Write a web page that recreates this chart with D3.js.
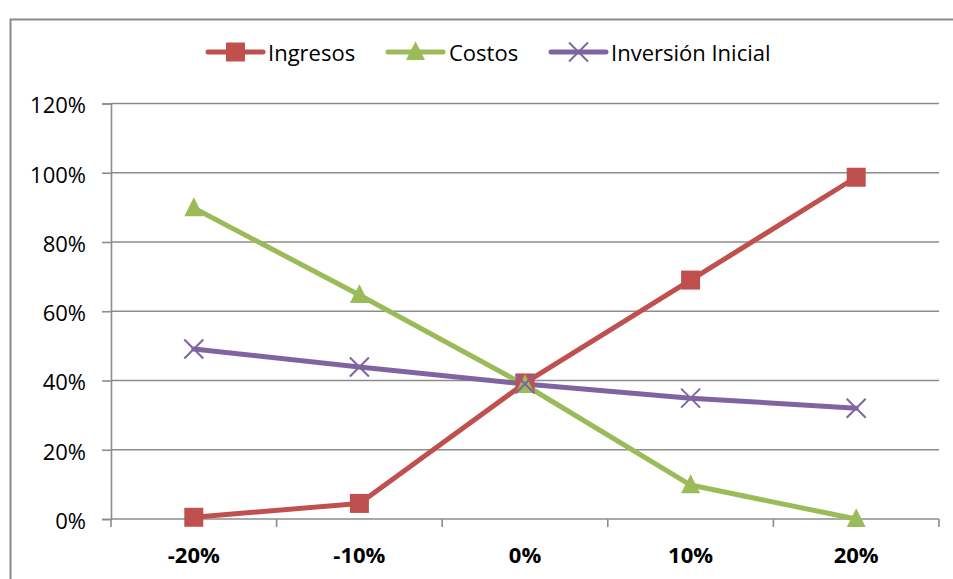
<!DOCTYPE html>
<html>
<head>
<meta charset="utf-8">
<script src="https://cdn.jsdelivr.net/npm/d3@7"></script>
<style>
  html, body { margin: 0; padding: 0; background: #fff; }
  svg { display: block; }
  text { font-family: "Open Sans", Lato, sans-serif; fill: #000; }
</style>
</head>
<body>
<svg id="chart" width="953" height="579"></svg>
<script>
// Sensitivity of the result to changes in each variable
const categories = ["-20%", "-10%", "0%", "10%", "20%"];
const ingresos = [0.5, 4.5, 39.3, 69.0, 98.7];
const costos = [89.8, 64.7, 38.7, 9.8, 0.0];
const inversion = [49.1, 43.9, 39.0, 34.9, 32.0];
const yTicks = [0, 20, 40, 60, 80, 100, 120];

const seriesNames = ["Ingresos", "Costos", "Inversión Inicial"];
const seriesColors = ["#C0504D", "#9BBB59", "#8064A2"];
const seriesMarkers = ["square", "triangle", "cross"];
const seriesValues = [ingresos, costos, inversion];

const series = seriesNames.map((name, i) => ({
  name, color: seriesColors[i], marker: seriesMarkers[i], values: seriesValues[i]
}));

const svg = d3.select("#chart");
const plot = { left: 111, right: 939, top: 103.5, bottom: 519 };
const FONT = "'Open Sans', Lato, sans-serif";

// Outer chart frame
svg.append("rect")
  .attr("x", 10.5).attr("y", 19.5)
  .attr("width", 960).attr("height", 600)
  .attr("fill", "none").attr("stroke", "#8a8a8a").attr("stroke-width", 2);

const x = d3.scaleBand().domain(categories).range([plot.left, plot.right]);
const y = d3.scaleLinear().domain([0, 120]).range([plot.bottom, plot.top]);

// Horizontal gridlines
svg.append("g")
  .selectAll("line")
  .data(yTicks.filter(t => t > 0))
  .join("line")
  .attr("x1", plot.left).attr("x2", plot.right)
  .attr("y1", d => y(d)).attr("y2", d => y(d))
  .attr("stroke", "#8c8c8c").attr("stroke-width", 1.6);

// Y axis
const yAxis = svg.append("g")
  .attr("transform", `translate(${plot.left},0)`)
  .call(d3.axisLeft(y).tickValues(yTicks).tickFormat(d => d + "%").tickSize(9).tickPadding(16));
yAxis.select(".domain").attr("stroke", "#8c8c8c").attr("stroke-width", 1.6);
yAxis.selectAll(".tick line").attr("stroke", "#8c8c8c").attr("stroke-width", 1.6);
yAxis.selectAll(".tick text")
  .attr("font-family", FONT).attr("font-size", 22).attr("fill", "#000")
  .attr("dy", "0.42em");

// X axis with ticks between categories
const xAxis = svg.append("g")
  .attr("transform", `translate(0,${plot.bottom})`);
xAxis.append("line")
  .attr("x1", plot.left).attr("x2", plot.right)
  .attr("stroke", "#8c8c8c").attr("stroke-width", 1.6);
const boundaries = categories.map(c => x(c)).concat([x(categories[categories.length - 1]) + x.bandwidth()]);
xAxis.selectAll("line.tk")
  .data(boundaries)
  .join("line").attr("class", "tk")
  .attr("x1", d => d).attr("x2", d => d)
  .attr("y1", 0).attr("y2", 8)
  .attr("stroke", "#8c8c8c").attr("stroke-width", 1.6);
xAxis.selectAll("text")
  .data(categories)
  .join("text")
  .attr("x", d => x(d) + x.bandwidth() / 2)
  .attr("y", 44)
  .attr("text-anchor", "middle")
  .attr("font-size", 22).attr("font-weight", "bold")
  .text(d => d);

// Marker drawing helper
function drawMarker(g, type, color, cx, cy, s) {
  if (type === "square") {
    g.append("rect")
      .attr("x", cx - s / 2).attr("y", cy - s / 2)
      .attr("width", s).attr("height", s)
      .attr("fill", color);
  } else if (type === "triangle") {
    const h = s * 0.95;
    g.append("path")
      .attr("d", `M${cx},${cy - h * 0.6} L${cx + s / 2},${cy + h * 0.45} L${cx - s / 2},${cy + h * 0.45} Z`)
      .attr("fill", color);
  } else {
    const r = s / 2;
    g.append("path")
      .attr("d", `M${cx - r},${cy - r} L${cx + r},${cy + r} M${cx - r},${cy + r} L${cx + r},${cy - r}`)
      .attr("stroke", color).attr("stroke-width", 2).attr("fill", "none");
  }
}

const line = d3.line()
  .x((d, i) => x(categories[i]) + x.bandwidth() / 2)
  .y(d => y(d));

// Series lines, then markers
series.forEach(s => {
  svg.append("path")
    .datum(s.values)
    .attr("d", line)
    .attr("fill", "none")
    .attr("stroke", s.color)
    .attr("stroke-width", 5)
    .attr("stroke-linejoin", "round")
    .attr("stroke-linecap", "round");
});
series.forEach(s => {
  const g = svg.append("g");
  s.values.forEach((v, i) => {
    drawMarker(g, s.marker, s.color, x(categories[i]) + x.bandwidth() / 2, y(v), 19);
  });
});

// Legend
const legendItems = [
  { lineX: 208, textX: 268 },
  { lineX: 388, textX: 449 },
  { lineX: 551, textX: 611 }
];
const legendY = 52;
series.forEach((s, i) => {
  const g = svg.append("g");
  const lx = legendItems[i].lineX;
  g.append("line")
    .attr("x1", lx).attr("x2", lx + 55)
    .attr("y1", legendY).attr("y2", legendY)
    .attr("stroke", s.color).attr("stroke-width", 5).attr("stroke-linecap", "round");
  drawMarker(g, s.marker, s.color, lx + 27.5, legendY, 19);
  g.append("text")
    .attr("x", legendItems[i].textX).attr("y", legendY + 8.5)
    .attr("font-size", 22)
    .text(s.name);
});
</script>
</body>
</html>
